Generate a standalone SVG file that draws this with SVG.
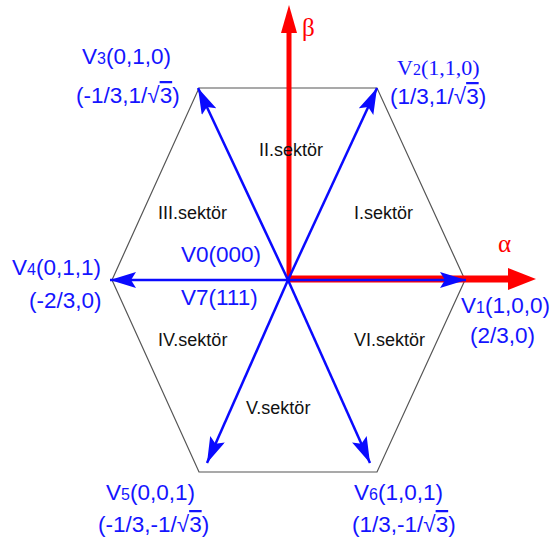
<svg xmlns="http://www.w3.org/2000/svg" width="557" height="543" viewBox="0 0 557 543">
<style>
.lbl{font-family:"Liberation Sans",Arial,sans-serif;font-size:22.5px;fill:#1414ff}
.ser{font-family:"Liberation Serif","Times New Roman",serif;font-size:22px;fill:#1414ff}
.sub{font-size:16px}
.sec{font-family:"Liberation Sans",Arial,sans-serif;font-size:18px;fill:#111}
.ax{font-family:"Liberation Serif","Times New Roman",serif;font-size:25px;fill:#ff0000}
.vec{stroke:#0a0aff;stroke-width:2.5;fill:none;marker-end:url(#ah)}
.ov{text-decoration:overline}
</style>
<defs>
<marker id="ah" markerUnits="userSpaceOnUse" markerWidth="28" markerHeight="18" refX="26" refY="8" orient="auto">
<path d="M0,0 L26,8 L0,16 L5,8 Z" fill="#0a0aff"/>
</marker>
</defs>
<g id="hexagon">
<polygon points="199,88 377,88 465,280 377,472 199,472 112,280" fill="none" stroke="#555" stroke-width="1.2"/>
</g>
<g id="axes">
<line x1="288" y1="279" x2="510" y2="279" stroke="#ff0000" stroke-width="7"/>
<polygon points="508,268 536,279 508,290" fill="#ff0000"/>
<line x1="289" y1="282" x2="289" y2="30" stroke="#ff0000" stroke-width="5"/>
<polygon points="281,33 289,5 297,33" fill="#ff0000"/>
<text class="ax" x="302" y="36">β</text>
<text class="ax" x="498" y="252">α</text>
</g>
<g id="connectors">
<line class="vec" x1="288" y1="280" x2="466" y2="280"/>
<line class="vec" x1="288" y1="280" x2="377" y2="88"/>
<line class="vec" x1="288" y1="280" x2="198" y2="88"/>
<line class="vec" x1="288" y1="280" x2="110" y2="280"/>
<line class="vec" x1="288" y1="280" x2="207" y2="463"/>
<line class="vec" x1="288" y1="280" x2="370" y2="463"/>
</g>
<g id="V1">
<text class="lbl" x="461" y="313">V<tspan class="sub">1</tspan>(1,0,0)</text>
<text class="lbl" x="470" y="343">(2/3,0)</text>
</g>
<g id="V2">
<text class="ser" x="397" y="75">V<tspan class="sub">2</tspan>(1,1,0)</text>
<text class="lbl" x="390" y="104">(1/3,1/√<tspan class="ov">3</tspan>)</text>
</g>
<g id="V3">
<text class="lbl" x="82" y="64">V<tspan class="sub">3</tspan>(0,1,0)</text>
<text class="lbl" x="76" y="103">(-1/3,1/√<tspan class="ov">3</tspan>)</text>
</g>
<g id="V4">
<text class="lbl" x="12" y="275">V<tspan class="sub">4</tspan>(0,1,1)</text>
<text class="lbl" x="29" y="308">(-2/3,0)</text>
</g>
<g id="V5">
<text class="lbl" x="106" y="500">V<tspan class="sub">5</tspan>(0,0,1)</text>
<text class="lbl" x="98" y="532">(-1/3,-1/√<tspan class="ov">3</tspan>)</text>
</g>
<g id="V6">
<text class="lbl" x="354" y="500">V<tspan class="sub">6</tspan>(1,0,1)</text>
<text class="lbl" x="352" y="532">(1/3,-1/√<tspan class="ov">3</tspan>)</text>
</g>
<g id="V0V7">
<text class="lbl" x="181" y="262">V0(000)</text>
<text class="lbl" x="181" y="305">V7(111)</text>
</g>
<g id="sectors">
<text class="sec" x="259" y="156">II.sektör</text>
<text class="sec" x="354" y="219">I.sektör</text>
<text class="sec" x="158" y="219">III.sektör</text>
<text class="sec" x="158" y="346">IV.sektör</text>
<text class="sec" x="354" y="346">VI.sektör</text>
<text class="sec" x="246" y="414">V.sektör</text>
</g>
</svg>
